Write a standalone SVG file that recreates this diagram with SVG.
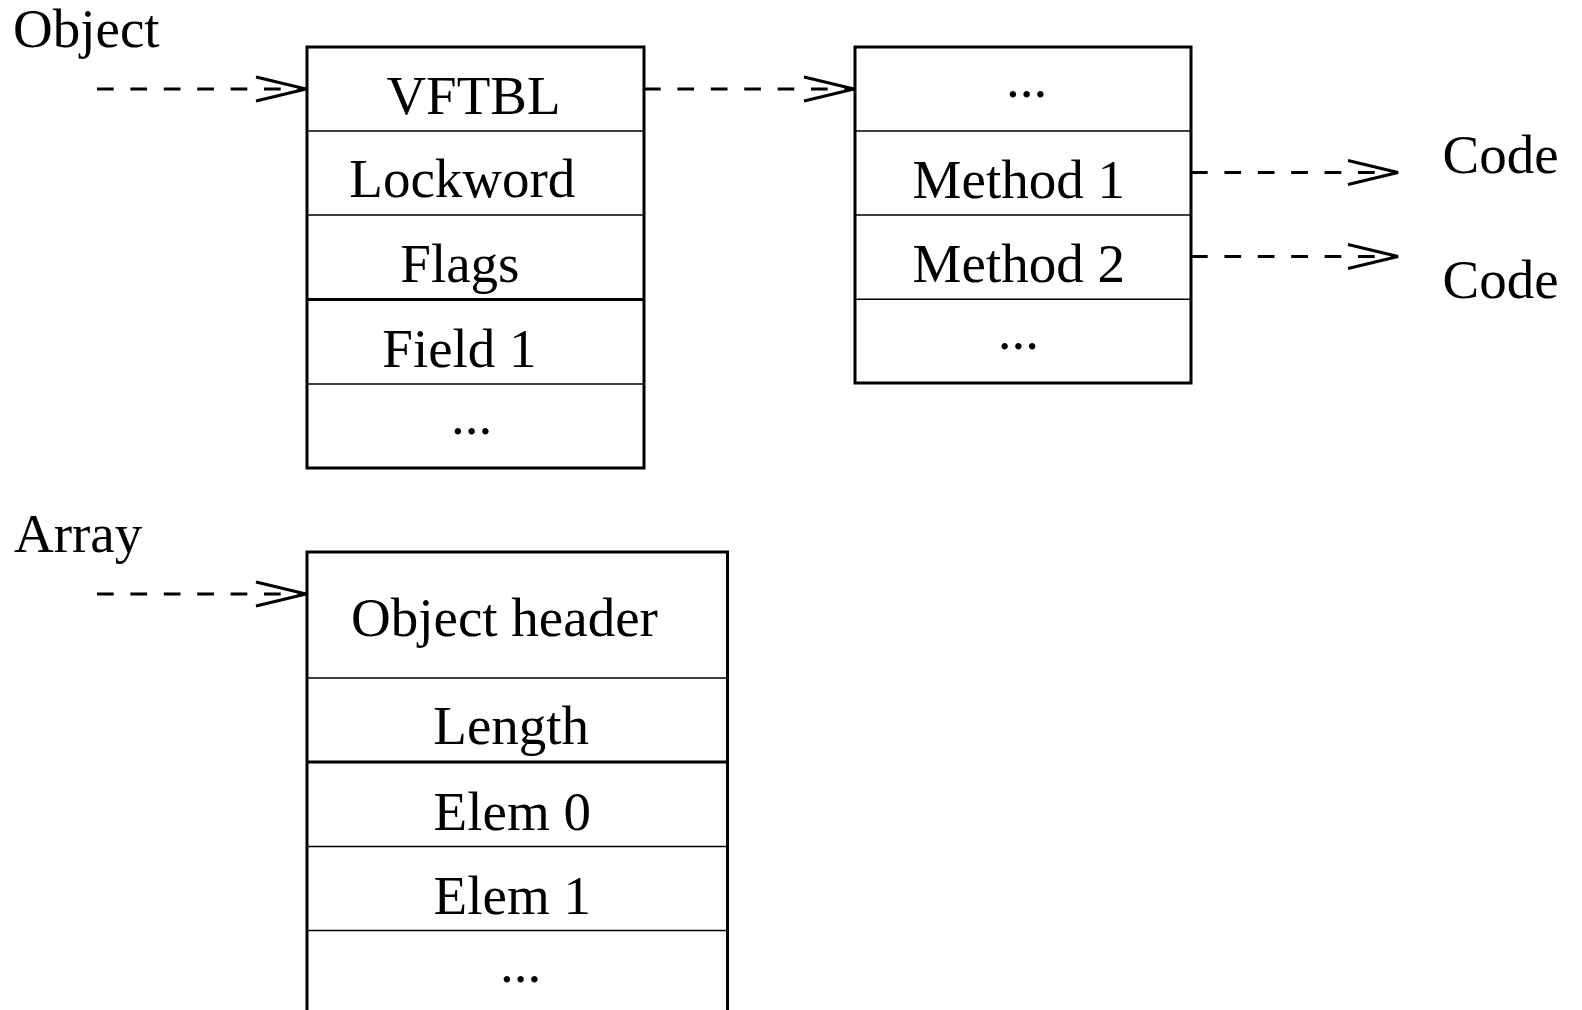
<svg xmlns="http://www.w3.org/2000/svg" width="1582" height="1010" viewBox="0 0 1582 1010">
  <style>
    text { font-family: "Liberation Serif", "Times New Roman", serif; font-size: 55px; fill: #000; }
    .frame { fill: none; stroke: #000; stroke-width: 3; }
    .div { stroke: #000; stroke-width: 1.6; }
    .div-thick { stroke: #000; stroke-width: 3; }
    .link { fill: none; stroke: #000; stroke-width: 3; stroke-dasharray: 16.7 16.7; }
  </style>
  <defs>
    <marker id="chevron" markerUnits="userSpaceOnUse" markerWidth="60" markerHeight="30" viewBox="-52 -15 56 30" refX="0" refY="0" orient="auto" overflow="visible">
      <path d="M-50,-12 L0,0 L-50,12" fill="none" stroke="#000" stroke-width="3"/>
    </marker>
  </defs>
  <rect width="1582" height="1010" fill="#fff"/>

  <!-- free labels -->
  <text id="label-object" x="13" y="47">Object</text>
  <text id="label-array" x="14" y="552">Array</text>
  <text id="label-code-1" x="1442.5" y="173.3">Code</text>
  <text id="label-code-2" x="1442.5" y="298.3">Code</text>

  <!-- object layout -->
  <g id="object-box">
    <rect class="frame" x="307" y="47" width="337" height="421"/>
    <line class="div" x1="307" y1="131" x2="644" y2="131"/>
    <line class="div" x1="307" y1="215" x2="644" y2="215"/>
    <line class="div-thick" x1="307" y1="299.5" x2="644" y2="299.5"/>
    <line class="div" x1="307" y1="384" x2="644" y2="384"/>
    <text x="386.4" y="114">VFTBL</text>
    <text x="349.3" y="197.3">Lockword</text>
    <text x="400.3" y="281.7">Flags</text>
    <text x="382.3" y="367.3">Field 1</text>
    <text x="451" y="434">...</text>
  </g>

  <!-- virtual function table -->
  <g id="vftbl-box">
    <rect class="frame" x="855" y="47" width="336" height="336"/>
    <line class="div" x1="855" y1="131" x2="1191" y2="131"/>
    <line class="div" x1="855" y1="215" x2="1191" y2="215"/>
    <line class="div" x1="855" y1="299.3" x2="1191" y2="299.3"/>
    <text x="1006" y="97.4">...</text>
    <text x="912.6" y="198.3">Method 1</text>
    <text x="912.6" y="281.7">Method 2</text>
    <text x="997.8" y="349">...</text>
  </g>

  <!-- array layout -->
  <g id="array-box">
    <rect class="frame" x="307" y="552" width="420.5" height="462"/>
    <line class="div" x1="307" y1="678" x2="727.5" y2="678"/>
    <line class="div-thick" x1="307" y1="762" x2="727.5" y2="762"/>
    <line class="div" x1="307" y1="846.5" x2="727.5" y2="846.5"/>
    <line class="div" x1="307" y1="930.5" x2="727.5" y2="930.5"/>
    <text x="351" y="636">Object header</text>
    <text x="433.3" y="744.3">Length</text>
    <text x="433.6" y="830">Elem 0</text>
    <text x="433.6" y="914">Elem 1</text>
    <text x="500" y="981.5">...</text>
  </g>

  <!-- pointers -->
  <g id="connectors">
    <path class="link" d="M97,89 H306" marker-end="url(#chevron)"/>
    <path class="link" d="M644,89 H854" marker-end="url(#chevron)"/>
    <path class="link" d="M1191,172.5 H1398" marker-end="url(#chevron)"/>
    <path class="link" d="M1191,256.5 H1398" marker-end="url(#chevron)"/>
    <path class="link" d="M97,594 H306" marker-end="url(#chevron)"/>
  </g>
</svg>
